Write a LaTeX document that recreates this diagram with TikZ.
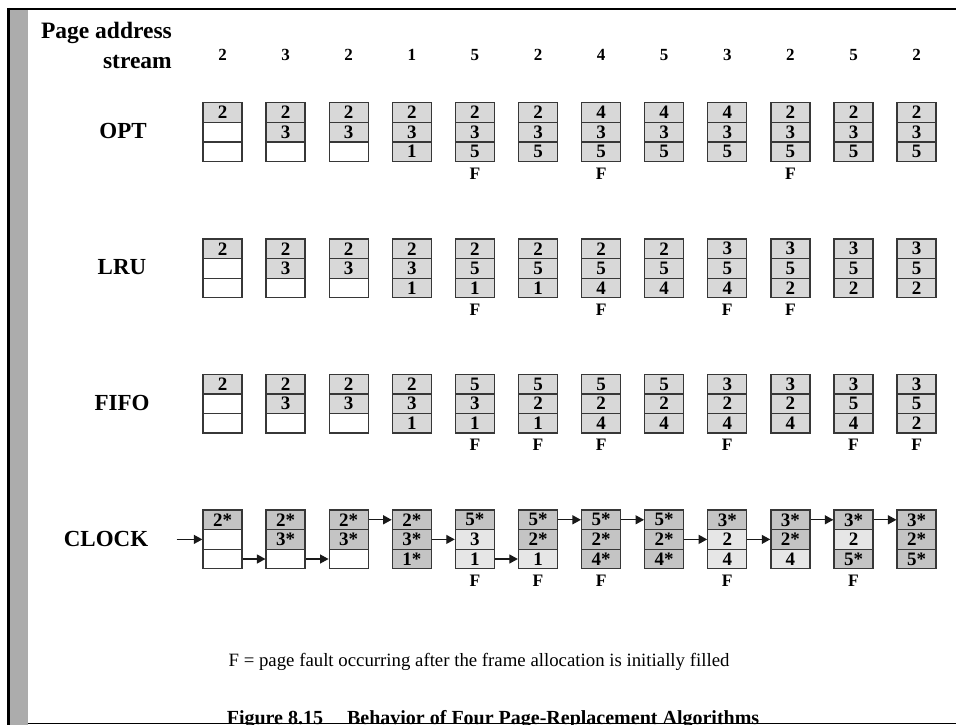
\documentclass[tikz,border=0pt]{standalone}
\usepackage{fontspec}
\setmainfont{Liberation Serif}
\usetikzlibrary{arrows.meta,calc}
\definecolor{cellfill}{RGB}{216,216,216}
\definecolor{stardark}{RGB}{196,196,196}
\definecolor{unstar}{RGB}{230,230,230}
\definecolor{edgec}{RGB}{55,55,55}
\definecolor{stripc}{RGB}{172,172,172}
\definecolor{baseline}{RGB}{200,200,200}
\newcommand\pcol[9]{%
  \pgfmathsetmacro\cx{222.5+63.1*(#2-1)}%
  \node[#4] (#1-#2-1) at (\cx,#3+9.8) {#5};
  \node[#6] (#1-#2-2) at (\cx,#3+29.4) {#7};
  \node[#8] (#1-#2-3) at (\cx,#3+49) {#9};
}
\newcommand\fault[2]{%
  \node[faultlab] (#1-f#2) at ([yshift=-11.5pt]#1-#2-3.south) {F};
}
\begin{document}
\begin{tikzpicture}[x=1pt,y=-1pt,
  cellbase/.style={draw=edgec, line width=1.3pt, minimum width=39pt,
    minimum height=19.6pt, inner sep=0pt,
    font=\fontsize{19}{19}\selectfont\bfseries},
  cellE/.style={cellbase, fill=white},
  cellF/.style={cellbase, fill=cellfill},
  cellS/.style={cellbase, fill=stardark},
  cellU/.style={cellbase, fill=unstar},
  faultlab/.style={inner sep=0pt, font=\fontsize{17.5}{17.5}\selectfont\bfseries},
  streamnum/.style={inner sep=0pt, anchor=base, font=\fontsize{17}{17}\selectfont\bfseries},
  rowlab/.style={inner sep=0pt, anchor=base, font=\fontsize{23}{23}\selectfont\bfseries},
  toplab/.style={inner sep=0pt, anchor=base east, font=\fontsize{23.5}{23.5}\selectfont\bfseries},
  ptr/.style={draw=black!90, line width=1.2pt, -{Triangle[length=8.5pt,width=9pt]}},
  note/.style={inner sep=0pt, anchor=base, font=\fontsize{18.8}{18.8}\selectfont},
  caption/.style={inner sep=0pt, anchor=base, font=\fontsize{20}{20}\selectfont\bfseries}
]
\useasboundingbox (0,0) rectangle (956,725);
\begin{scope}
\clip (0,0) rectangle (956,725);
% frame decoration
\fill[stripc] (9.5,10.5) rectangle (27.5,725);
\draw[black, line width=2.2pt] (8.4,8) -- (8.4,725);
\draw[black, line width=2.4pt] (7.3,9.3) -- (956,9.3);
\draw[baseline, line width=1pt] (27.5,723) -- (956,723);

% header
\node[toplab] (pa) at (172,38.5) {Page address};
\node[toplab] (st) at (172,69) {stream};
\foreach \v [count=\i] in {2,3,2,1,5,2,4,5,3,2,5,2}{
  \pgfmathsetmacro\sx{222.5+63.1*(\i-1)}
  \node[streamnum] (s\i) at (\sx,61) {\v};
}

% row labels
\node[rowlab] (lopt) at (123,138.3) {OPT};
\node[rowlab] (llru) at (122,274.6) {LRU};
\node[rowlab] (lfifo) at (122,410.9) {FIFO};
\node[rowlab] (lclock) at (106,546.7) {CLOCK};

% OPT
\def\yt{102.7}
\pcol{opt}{1}{\yt}{cellF}{2}{cellE}{}{cellE}{}
\pcol{opt}{2}{\yt}{cellF}{2}{cellF}{3}{cellE}{}
\pcol{opt}{3}{\yt}{cellF}{2}{cellF}{3}{cellE}{}
\pcol{opt}{4}{\yt}{cellF}{2}{cellF}{3}{cellF}{1}
\pcol{opt}{5}{\yt}{cellF}{2}{cellF}{3}{cellF}{5}
\pcol{opt}{6}{\yt}{cellF}{2}{cellF}{3}{cellF}{5}
\pcol{opt}{7}{\yt}{cellF}{4}{cellF}{3}{cellF}{5}
\pcol{opt}{8}{\yt}{cellF}{4}{cellF}{3}{cellF}{5}
\pcol{opt}{9}{\yt}{cellF}{4}{cellF}{3}{cellF}{5}
\pcol{opt}{10}{\yt}{cellF}{2}{cellF}{3}{cellF}{5}
\pcol{opt}{11}{\yt}{cellF}{2}{cellF}{3}{cellF}{5}
\pcol{opt}{12}{\yt}{cellF}{2}{cellF}{3}{cellF}{5}
\fault{opt}{5}\fault{opt}{7}\fault{opt}{10}

% LRU
\def\yt{239}
\pcol{lru}{1}{\yt}{cellF}{2}{cellE}{}{cellE}{}
\pcol{lru}{2}{\yt}{cellF}{2}{cellF}{3}{cellE}{}
\pcol{lru}{3}{\yt}{cellF}{2}{cellF}{3}{cellE}{}
\pcol{lru}{4}{\yt}{cellF}{2}{cellF}{3}{cellF}{1}
\pcol{lru}{5}{\yt}{cellF}{2}{cellF}{5}{cellF}{1}
\pcol{lru}{6}{\yt}{cellF}{2}{cellF}{5}{cellF}{1}
\pcol{lru}{7}{\yt}{cellF}{2}{cellF}{5}{cellF}{4}
\pcol{lru}{8}{\yt}{cellF}{2}{cellF}{5}{cellF}{4}
\pcol{lru}{9}{\yt}{cellF}{3}{cellF}{5}{cellF}{4}
\pcol{lru}{10}{\yt}{cellF}{3}{cellF}{5}{cellF}{2}
\pcol{lru}{11}{\yt}{cellF}{3}{cellF}{5}{cellF}{2}
\pcol{lru}{12}{\yt}{cellF}{3}{cellF}{5}{cellF}{2}
\fault{lru}{5}\fault{lru}{7}\fault{lru}{9}\fault{lru}{10}

% FIFO
\def\yt{374.3}
\pcol{fifo}{1}{\yt}{cellF}{2}{cellE}{}{cellE}{}
\pcol{fifo}{2}{\yt}{cellF}{2}{cellF}{3}{cellE}{}
\pcol{fifo}{3}{\yt}{cellF}{2}{cellF}{3}{cellE}{}
\pcol{fifo}{4}{\yt}{cellF}{2}{cellF}{3}{cellF}{1}
\pcol{fifo}{5}{\yt}{cellF}{5}{cellF}{3}{cellF}{1}
\pcol{fifo}{6}{\yt}{cellF}{5}{cellF}{2}{cellF}{1}
\pcol{fifo}{7}{\yt}{cellF}{5}{cellF}{2}{cellF}{4}
\pcol{fifo}{8}{\yt}{cellF}{5}{cellF}{2}{cellF}{4}
\pcol{fifo}{9}{\yt}{cellF}{3}{cellF}{2}{cellF}{4}
\pcol{fifo}{10}{\yt}{cellF}{3}{cellF}{2}{cellF}{4}
\pcol{fifo}{11}{\yt}{cellF}{3}{cellF}{5}{cellF}{4}
\pcol{fifo}{12}{\yt}{cellF}{3}{cellF}{5}{cellF}{2}
\fault{fifo}{5}\fault{fifo}{6}\fault{fifo}{7}\fault{fifo}{9}\fault{fifo}{11}\fault{fifo}{12}

% CLOCK
\def\yt{510}
\pcol{clk}{1}{\yt}{cellS}{2*}{cellE}{}{cellE}{}
\pcol{clk}{2}{\yt}{cellS}{2*}{cellS}{3*}{cellE}{}
\pcol{clk}{3}{\yt}{cellS}{2*}{cellS}{3*}{cellE}{}
\pcol{clk}{4}{\yt}{cellS}{2*}{cellS}{3*}{cellS}{1*}
\pcol{clk}{5}{\yt}{cellS}{5*}{cellU}{3}{cellU}{1}
\pcol{clk}{6}{\yt}{cellS}{5*}{cellS}{2*}{cellU}{1}
\pcol{clk}{7}{\yt}{cellS}{5*}{cellS}{2*}{cellS}{4*}
\pcol{clk}{8}{\yt}{cellS}{5*}{cellS}{2*}{cellS}{4*}
\pcol{clk}{9}{\yt}{cellS}{3*}{cellU}{2}{cellU}{4}
\pcol{clk}{10}{\yt}{cellS}{3*}{cellS}{2*}{cellU}{4}
\pcol{clk}{11}{\yt}{cellS}{3*}{cellU}{2}{cellS}{5*}
\pcol{clk}{12}{\yt}{cellS}{3*}{cellS}{2*}{cellS}{5*}
\fault{clk}{5}\fault{clk}{6}\fault{clk}{7}\fault{clk}{9}\fault{clk}{11}

% clock pointer arrows
\coordinate (clkin) at (176.5,539.4);
\draw[ptr] (clkin) -- (clk-1-2.west);
\foreach \a/\k in {1/3,2/3,3/1,4/2,5/3,6/1,7/1,8/2,9/2,10/1,11/1}{
  \pgfmathtruncatemacro\b{\a+1}
  \draw[ptr] (clk-\a-\k.east) -- (clk-\b-\k.west);
}

% notes
\node[note] (fnote) at (479,666) {F = page fault occurring after the frame allocation is initially filled};
\node[caption] (cap) at (493,724) {Figure 8.15\hspace{1.2em}Behavior of Four Page-Replacement Algorithms};
\end{scope}
\end{tikzpicture}
\end{document}
